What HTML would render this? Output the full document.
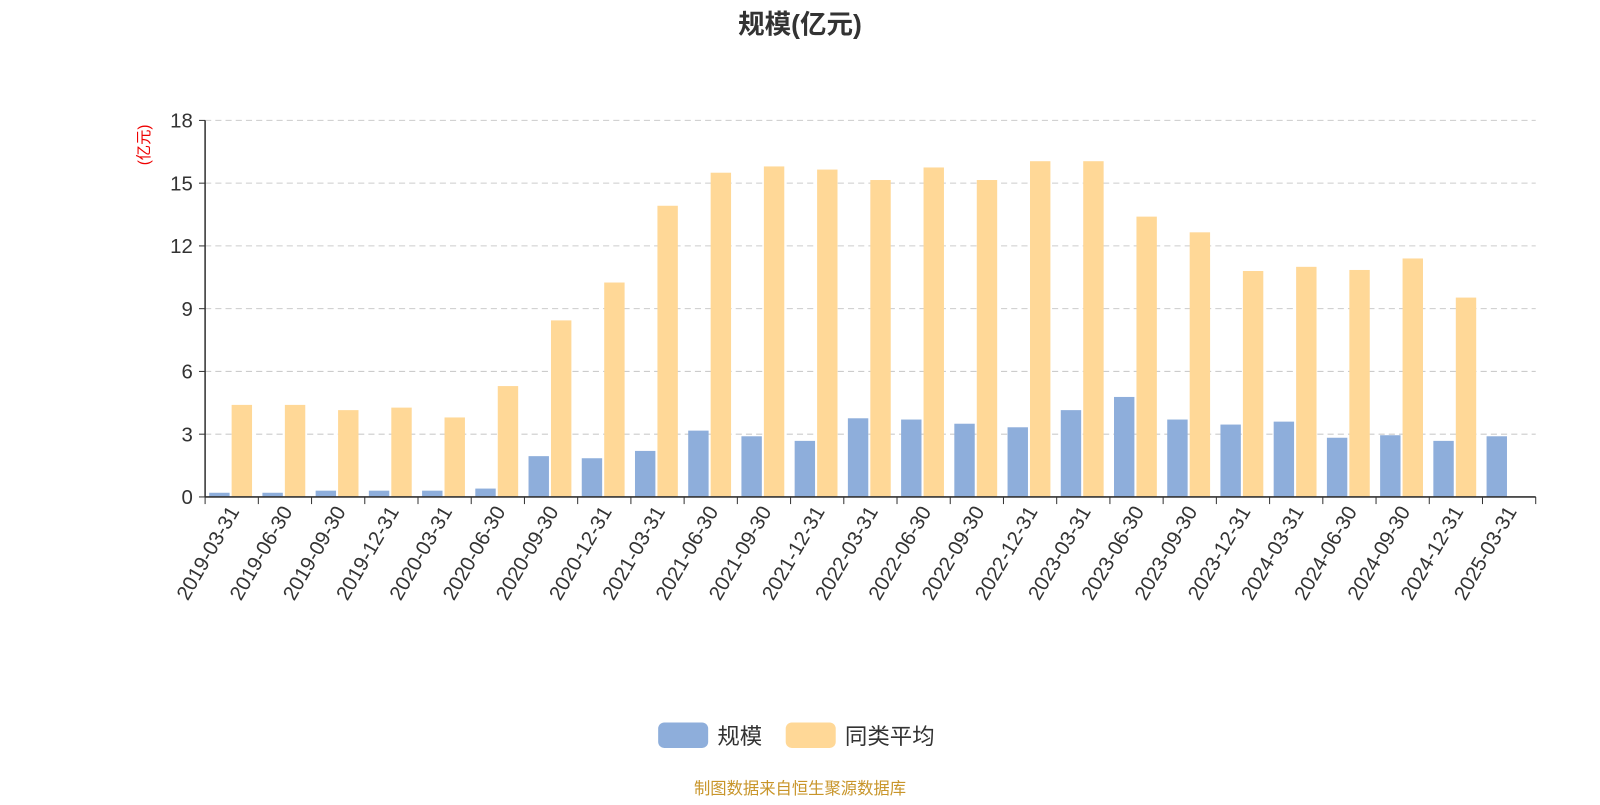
<!DOCTYPE html>
<html><head><meta charset="utf-8"><style>
body{margin:0;background:#fff;width:1600px;height:800px;overflow:hidden;font-family:"Liberation Sans","Noto Sans CJK SC",sans-serif}
</style></head><body>
<svg id="chart" width="1600" height="800" viewBox="0 0 1568 784" xmlns="http://www.w3.org/2000/svg" font-family="Liberation Sans, Noto Sans CJK SC, sans-serif">
<text x="784" y="33" text-anchor="middle" font-size="26" font-weight="bold" fill="#333">规模(亿元)</text>
<text transform="translate(146,142) rotate(-90)" text-anchor="middle" font-size="15" fill="#e00">(亿元)</text>
<g id="grid"></g><g id="bars"></g><g id="axes"></g>
<g>
<rect x="645" y="708" width="49" height="25" rx="6" fill="#8eaedb"/>
<text x="703" y="729" font-size="22" fill="#333">规模</text>
<rect x="770" y="708" width="49" height="25" rx="6" fill="#ffd897"/>
<text x="828" y="729" font-size="22" fill="#333">同类平均</text>
</g>
<text x="784" y="778" text-anchor="middle" font-size="16" fill="#c8952a">制图数据来自恒生聚源数据库</text>
</svg>
<script>
const categories=["2019-03-31","2019-06-30","2019-09-30","2019-12-31","2020-03-31","2020-06-30","2020-09-30","2020-12-31","2021-03-31","2021-06-30","2021-09-30","2021-12-31","2022-03-31","2022-06-30","2022-09-30","2022-12-31","2023-03-31","2023-06-30","2023-09-30","2023-12-31","2024-03-31","2024-06-30","2024-09-30","2024-12-31","2025-03-31"];
const scaleValues=[0.2,0.2,0.3,0.3,0.3,0.4,1.95,1.85,2.2,3.17,2.9,2.68,3.76,3.7,3.5,3.33,4.15,4.78,3.7,3.46,3.6,2.83,2.95,2.68,2.9];
const avgValues=[4.4,4.4,4.15,4.27,3.8,5.3,8.44,10.25,13.92,15.5,15.8,15.65,15.15,15.75,15.15,16.05,16.05,13.4,12.65,10.8,11.0,10.85,11.4,9.53,null];
const yTicks=[0,3,6,9,12,15,18];
const X0=201,X1=1505,Y0=487,Y1=118,YMAX=18;
const ns="http://www.w3.org/2000/svg";
const bw=(X1-X0)/categories.length;
const y=v=>Y0-(v/YMAX)*(Y0-Y1);
const x=i=>X0+i*bw;
function mk(tag,attrs,parent){const e=document.createElementNS(ns,tag);for(const k in attrs)e.setAttribute(k,attrs[k]);parent.appendChild(e);return e;}
const grid=document.getElementById('grid'),bars=document.getElementById('bars'),axes=document.getElementById('axes');
yTicks.forEach(t=>{
 if(t>0){const l=mk('line',{x1:X0,x2:X1,y1:y(t),y2:y(t),stroke:'#ccc','stroke-dasharray':'6,4'},grid);
 
 }
 const tk=mk('line',{x1:X0-6,x2:X0,y1:y(t),y2:y(t),stroke:'#333'},axes);
 
 
 const tx=mk('text',{x:X0-12,y:y(t)+7,'text-anchor':'end','font-size':20,fill:'#333'},axes);tx.textContent=t;
 
 
});
categories.forEach((c,i)=>{
 const bx=x(i);
 if(scaleValues[i]!=null){const r=mk('rect',{x:bx+4,y:y(scaleValues[i]),width:20,height:Y0-y(scaleValues[i]),fill:'#8eaedb'},bars);
 
 }
 if(avgValues[i]!=null){const r=mk('rect',{x:bx+26,y:y(avgValues[i]),width:20,height:Y0-y(avgValues[i]),fill:'#ffd897'},bars);
 
 }
 const tk=mk('line',{x1:bx,x2:bx,y1:Y0,y2:Y0+7,stroke:'#333'},axes);
 
 
 const cx=bx+bw/2;
 const tx=mk('text',{x:cx+8,y:Y0+14,'text-anchor':'end','font-size':20,fill:'#333',transform:`rotate(-60 ${cx+8} ${Y0+14})`},axes);tx.textContent=c;
 
 
});
const et=mk('line',{x1:X1,x2:X1,y1:Y0,y2:Y0+7,stroke:'#333'},axes);


const xa=mk('line',{x1:X0,x2:X1,y1:Y0,y2:Y0,stroke:'#333','stroke-width':1.5},axes);


const ya=mk('line',{x1:X0,x2:X0,y1:Y1,y2:Y0,stroke:'#333','stroke-width':1.5},axes);


</script>
</body></html>
